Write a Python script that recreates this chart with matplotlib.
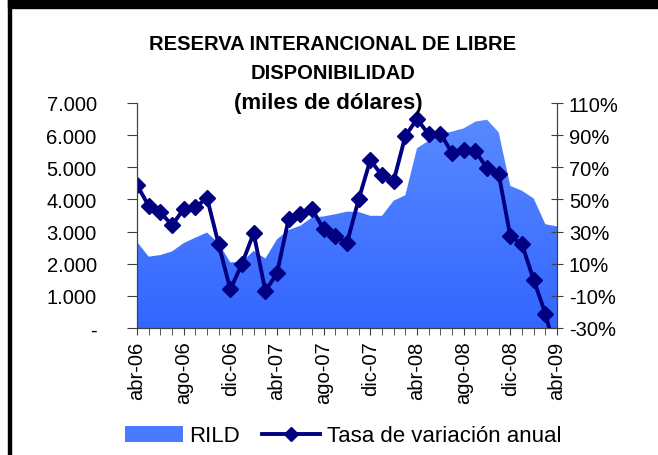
import numpy as np
import matplotlib.pyplot as plt
from matplotlib.patches import Patch, Rectangle
from matplotlib.lines import Line2D
from matplotlib.colors import LinearSegmentedColormap

plt.rcParams['font.family'] = ['Liberation Sans', 'DejaVu Sans']

meses = ['abr-06', 'may-06', 'jun-06', 'jul-06', 'ago-06', 'sep-06', 'oct-06', 'nov-06',
         'dic-06', 'ene-07', 'feb-07', 'mar-07', 'abr-07', 'may-07', 'jun-07', 'jul-07',
         'ago-07', 'sep-07', 'oct-07', 'nov-07', 'dic-07', 'ene-08', 'feb-08', 'mar-08',
         'abr-08', 'may-08', 'jun-08', 'jul-08', 'ago-08', 'sep-08', 'oct-08', 'nov-08',
         'dic-08', 'ene-09', 'feb-09', 'mar-09', 'abr-09']

# RILD, miles de dolares
rild = [2680, 2220, 2270, 2380, 2640, 2810, 2970, 2640, 2040, 2060, 2400, 2160, 2760,
        3050, 3180, 3440, 3470, 3540, 3620, 3610, 3490, 3490, 3960, 4130, 5590, 5830,
        6030, 6110, 6210, 6420, 6480, 6090, 4420, 4270, 4030, 3230, 3160]

# tasa de variacion anual, %
tasa = [59, 46, 42, 34, 44, 45, 51, 22, -6, 10, 29, -7, 4, 38, 41, 44, 31.5, 27, 23,
        50, 74.5, 65, 61.5, 89.5, 100, 90.5, 91, 79, 81, 80, 69.5, 66, 27, 22, 0, -21, -48]

etiquetas_izq = ['-', '1.000', '2.000', '3.000', '4.000', '5.000', '6.000', '7.000']
etiquetas_der = ['-30%', '-10%', '10%', '30%', '50%', '70%', '90%', '110%']

x = np.arange(len(meses))

fig = plt.figure(figsize=(6.58, 4.56), dpi=100)
ax = fig.add_axes([137/658, 1-329/456, 420/658, 225/456])
ax2 = ax.twinx()

# area with vertical gradient
poly = ax.fill_between(x, 0, rild, color='none', lw=0)
cmap = LinearSegmentedColormap.from_list('azul', ['#3366ff', '#5b8cff'])
grad = np.linspace(0, 1, 256).reshape(-1, 1)
im = ax.imshow(grad, cmap=cmap, origin='lower', aspect='auto',
               extent=[0, len(meses)-1, 0, 7000], zorder=1)
im.set_clip_path(poly.get_paths()[0], transform=ax.transData)

ax2.plot(x, tasa, color='#000080', lw=2.8, marker='D', ms=8.5, clip_on=True)

ax.set_xlim(0, len(meses)-1)
ax.set_ylim(0, 7000)
ax2.set_ylim(-30, 110)

ax.set_yticks(np.arange(0, 7001, 1000))
ax.set_yticklabels(etiquetas_izq, fontsize=14.5)
ax2.set_yticks(np.arange(-30, 111, 20))
ax2.set_yticklabels(etiquetas_der, fontsize=14.5)

ax.set_xticks(x[::4])
ax.set_xticklabels(meses[::4], rotation=90, fontsize=14.5)
ax.set_xticks(x, minor=True)

for a in (ax, ax2):
    a.spines['top'].set_visible(False)
    for s in ('left', 'right', 'bottom'):
        a.spines[s].set_color('#404040')
ax.tick_params(axis='y', direction='out', length=7, color='#404040', pad=22)
ax2.tick_params(axis='y', direction='inout', length=9, color='#404040', pad=4)
ax.tick_params(axis='x', which='both', direction='out', length=5, color='#404040', pad=4)

fig.text(0.506, 1-45/456, 'RESERVA INTERANCIONAL DE LIBRE', ha='center', va='center',
         fontsize=14.5, fontweight='bold')
fig.text(0.506, 1-74/456, 'DISPONIBILIDAD', ha='center', va='center',
         fontsize=14.5, fontweight='bold')
fig.text(0.499, 1-103/456, '(miles de dólares)', ha='center', va='center',
         fontsize=16, fontweight='bold')

handles = [Patch(facecolor='#4a7bff', edgecolor='none'),
           Line2D([], [], color='#000080', lw=2.8, marker='D', ms=7)]
fig.legend(handles, ['RILD', 'Tasa de variación anual'], loc='center',
           bbox_to_anchor=(343/658, 1-437/456), ncol=2, frameon=False,
           fontsize=16, handlelength=2.6, columnspacing=1.0, handletextpad=0.3)

# black frame pieces
fig.patches.append(Rectangle((8/658, 1-9/456), 1, 9/456, transform=fig.transFigure,
                             color='black', zorder=0))
fig.patches.append(Rectangle((8/658, 0), 3/658, 1, transform=fig.transFigure,
                             color='black', zorder=0))

fig.savefig('out.png', dpi=100)
